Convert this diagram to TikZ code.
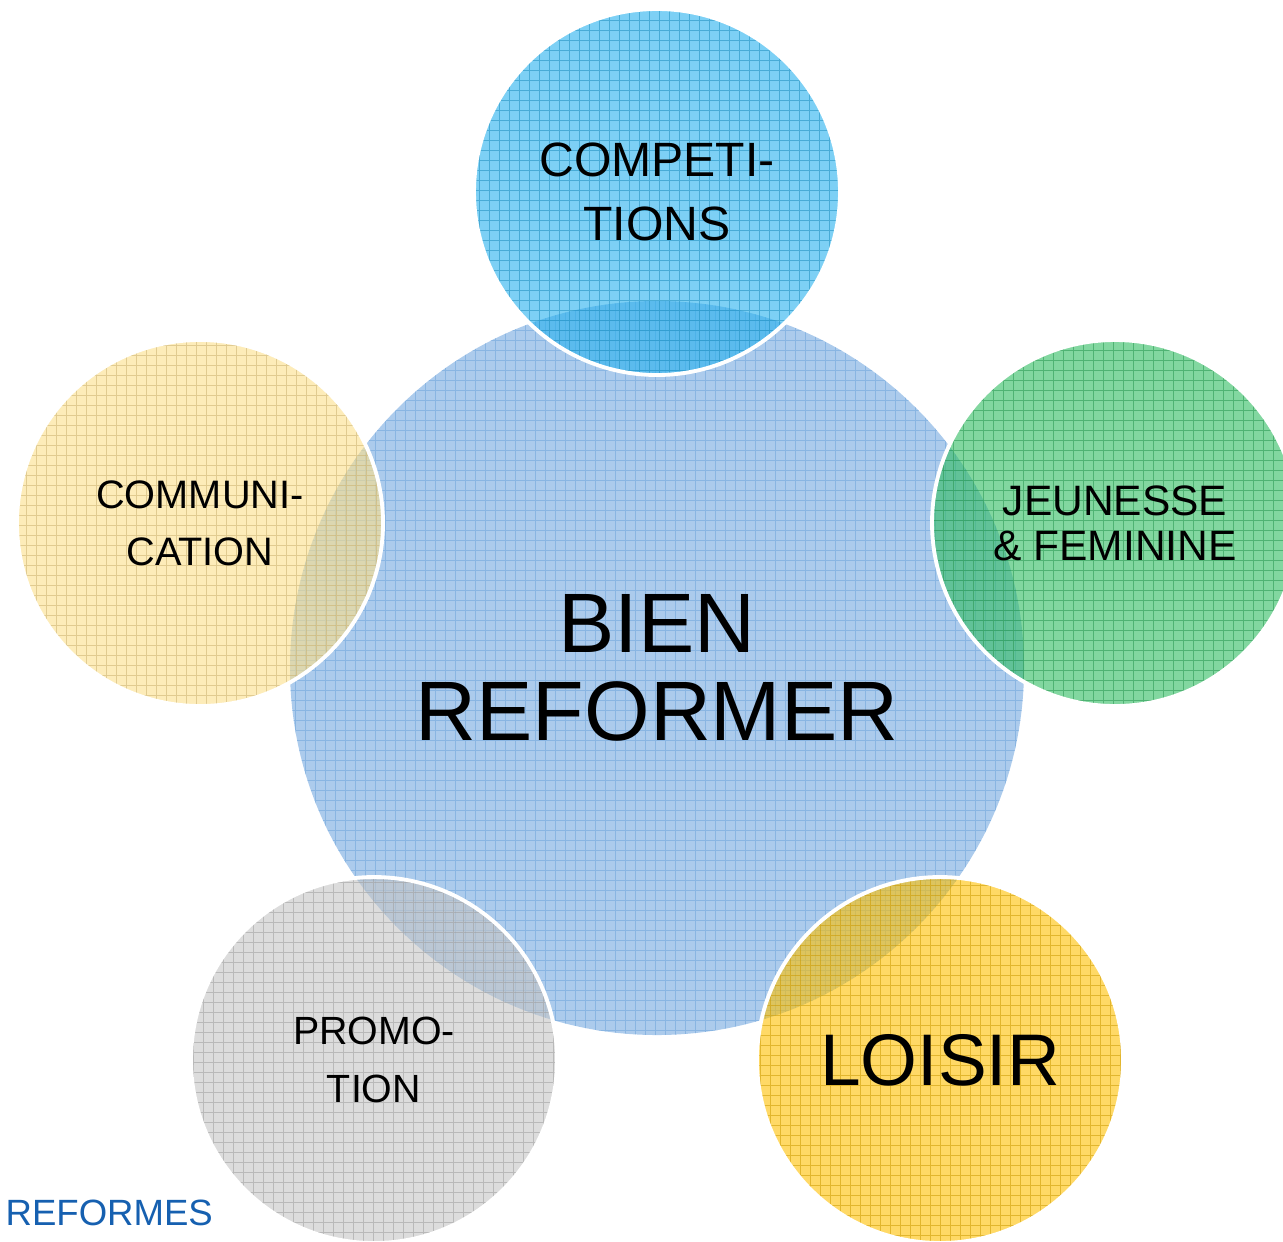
\documentclass[tikz,border=0pt]{standalone}
\usepackage{fontspec}
\setmainfont{Liberation Sans}
\definecolor{hubblue}{RGB}{172,203,236}
\definecolor{hubgrid}{RGB}{110,163,218}
\definecolor{skyblue}{RGB}{38,177,238}
\definecolor{leafgreen}{RGB}{47,188,97}
\definecolor{sandyellow}{RGB}{252,223,138}
\definecolor{stonegrey}{RGB}{197,197,197}
\definecolor{goldfill}{RGB}{255,192,0}
\definecolor{tagblue}{RGB}{22,96,176}

\begin{document}
\begin{tikzpicture}[
  gridded/.style={path picture={\draw[#1, line width=0.3pt, draw opacity=0.55, step=0.1]
      (path picture bounding box.south west) grid (path picture bounding box.north east);}},
  hub/.style={circle, minimum size=7.34cm, inner sep=0pt, align=center, fill=hubblue, gridded=hubgrid},
  bubble/.style={circle, minimum size=3.66cm, inner sep=0pt, align=center, draw=white, line width=1.1pt,
      fill=#1, fill opacity=0.6, text opacity=1, gridded=#1!80!black}
]
\useasboundingbox (0,0) rectangle (12.83,-12.41);
\node[hub, font=\fontsize{24}{25}\selectfont] (hub) at (6.57,-6.68) {BIEN\\REFORMER};
\node[bubble=skyblue, font=\fontsize{13.7}{19}\selectfont] (compet) at (6.57,-1.92) {COMPETI-\\[-1pt]TIONS};
\node[bubble=sandyellow, font=\fontsize{11.3}{16.2}\selectfont] (commun) at (2.00,-5.23) {COMMUNI-\\CATION};
\node[bubble=leafgreen, font=\fontsize{12.1}{12.8}\selectfont] (jeunes) at (11.15,-5.23) {JEUNESSE\\\& FEMININE};
\node[bubble=stonegrey, font=\fontsize{11.2}{16.5}\selectfont] (promo) at (3.74,-10.60) {PROMO-\\TION};
\node[bubble=goldfill, font=\fontsize{20.8}{22}\selectfont] (loisir) at (9.40,-10.60) {LOISIR};
\node[anchor=base west, inner sep=0pt, text=tagblue, font=\fontsize{10.4}{12}\selectfont] (tag) at (0.05,-12.25) {REFORMES};
\end{tikzpicture}
\end{document}
